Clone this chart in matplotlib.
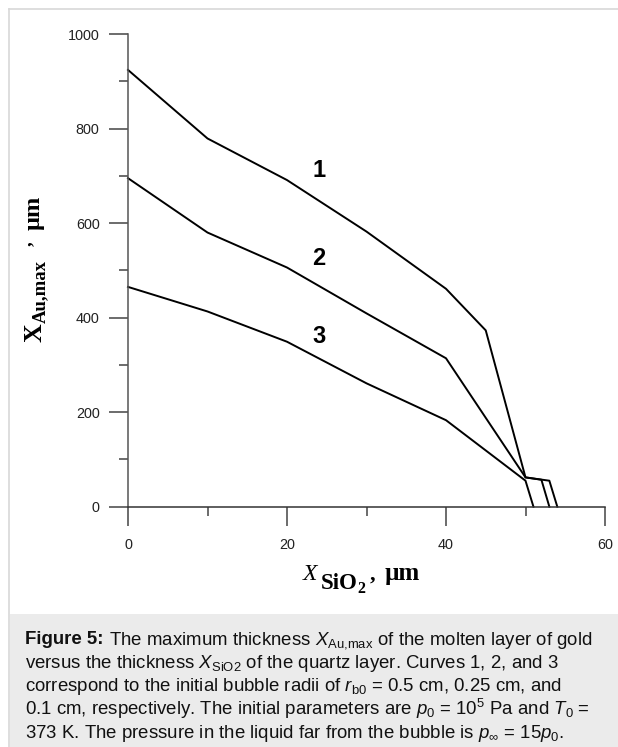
import matplotlib
matplotlib.use("Agg")
import matplotlib.pyplot as plt
from matplotlib.patches import Rectangle
from matplotlib.lines import Line2D
from matplotlib.ticker import MultipleLocator

# data (x: SiO2 thickness, um; y: max molten Au thickness, um)
x_curve1 = [0, 10, 20, 30, 40, 45, 50, 53, 54]
y_curve1 = [924, 779, 691, 582, 461, 373, 62, 55, 0]
x_curve2 = [0, 10, 20, 30, 40, 50, 52, 53]
y_curve2 = [695, 580, 506, 409, 314, 62, 57, 0]
x_curve3 = [0, 10, 20, 30, 40, 50, 51]
y_curve3 = [465, 413, 349, 261, 183, 55, 0]
curve_labels = ["1", "2", "3"]
label_pos = [(24, 712), (24, 525), (24, 360)]

caption_bold = "Figure 5:"
caption_lines = [
    r" The maximum thickness $X_{\mathrm{Au{,}max}}$ of the molten layer of gold",
    r"versus the thickness $X_{\mathrm{SiO2}}$ of the quartz layer. Curves 1, 2, and 3",
    r"correspond to the initial bubble radii of $r_{\mathrm{b0}}$ = 0.5 cm, 0.25 cm, and",
    r"0.1 cm, respectively. The initial parameters are $p_0$ = 10$^5$ Pa and $T_0$ =",
    r"373 K. The pressure in the liquid far from the bubble is $p_{\infty}$ = 15$p_0$.",
]

plt.rcParams["font.family"] = ["Liberation Sans", "DejaVu Sans"]
plt.rcParams["mathtext.fontset"] = "custom"
plt.rcParams["mathtext.rm"] = "Liberation Sans"
plt.rcParams["mathtext.it"] = "Liberation Sans:italic"
plt.rcParams["mathtext.bf"] = "Liberation Sans:bold"

W, H = 618, 747
fig = plt.figure(figsize=(W / 100, H / 100), dpi=100)
renderer = fig.canvas.get_renderer()


def put_pieces(x0, y0, pieces, rotation=0):
    # x0, y0 in pixels (y from top); pieces: (text, kwargs, raise_px, gap_px)
    pos = 0
    for s, kw, shift, gap in pieces:
        pos += gap
        if rotation == 0:
            x, y = x0 + pos, y0 - shift
        else:
            x, y = x0 - shift, y0 - pos
        t = fig.text(x / W, 1 - y / H, s, rotation=rotation, rotation_mode="anchor",
                     ha="left", va="baseline", **kw)
        bb = t.get_window_extent(renderer)
        pos += bb.width if rotation == 0 else bb.height


# page frame and grey caption box
fig.patches.append(Rectangle((10 / W, 0), 1, (H - 614) / H, transform=fig.transFigure,
                             facecolor="#ebebeb", edgecolor="none", zorder=0))
fig.lines.append(Line2D([9 / W, 9 / W], [0, (H - 8.5) / H], transform=fig.transFigure,
                        color="#d8d8d8", lw=1.2))
fig.lines.append(Line2D([9 / W, 1], [(H - 8.5) / H, (H - 8.5) / H], transform=fig.transFigure,
                        color="#d8d8d8", lw=1.2))

ax = fig.add_axes([128 / W, (H - 506.7) / H, 477 / W, 472.7 / H])
for xs, ys in [(x_curve1, y_curve1), (x_curve2, y_curve2), (x_curve3, y_curve3)]:
    ax.plot(xs, ys, color="black", lw=1.4, clip_on=False)

for lab, (lx, ly) in zip(curve_labels, label_pos):
    ax.text(lx, ly, lab, fontsize=17, fontweight="bold", ha="center", va="center")

ax.set_xlim(0, 60)
ax.set_ylim(0, 1000)
ax.xaxis.set_major_locator(MultipleLocator(20))
ax.xaxis.set_minor_locator(MultipleLocator(10))
ax.yaxis.set_major_locator(MultipleLocator(200))
ax.yaxis.set_minor_locator(MultipleLocator(100))
for s in ["top", "right"]:
    ax.spines[s].set_visible(False)
ax.spines["left"].set_color("#555555")
ax.spines["bottom"].set_color("#333333")
ax.spines["left"].set_linewidth(1.1)
ax.spines["bottom"].set_linewidth(1.1)
ax.tick_params(which="major", length=13.5, width=1.1, color="#444444", labelsize=10.4,
               pad=7, labelcolor="#222222")
ax.tick_params(which="minor", length=6.5, width=1.1, color="#444444")
ax.tick_params(axis="x", which="major", pad=9)

serif = "Liberation Serif"
# x axis label: X_SiO2 , um
put_pieces(303, 580, [
    ("X", dict(family=serif, style="italic", fontsize=17), 0, 0),
    ("SiO", dict(family=serif, weight="bold", fontsize=16.5), -9, 3),
    ("2", dict(family=serif, weight="bold", fontsize=11.5), -13, 0),
    (",", dict(family=serif, weight="bold", fontsize=16), 0, 4),
    ("\u00b5m", dict(family=serif, weight="bold", fontsize=18), 0, 10),
])
# y axis label: X_Au,max , um (rotated)
put_pieces(42, 342, [
    ("X", dict(family=serif, weight="bold", fontsize=18.5), 0, 0),
    ("Au,max", dict(family=serif, weight="bold", fontsize=13.5), -3, 0),
    (",", dict(family=serif, weight="bold", fontsize=13.5), 11, 14),
    ("\u00b5m", dict(family=serif, weight="bold", fontsize=17.5), 2, 12),
], rotation=90)

for i, line in enumerate(caption_lines):
    y = 644.3 + 23.5 * i
    if i == 0:
        put_pieces(25, y, [
            (caption_bold, dict(fontsize=13.4, weight="bold", color="#111111"), 0, 0),
            (line, dict(fontsize=13.4, color="#111111"), 0, 0),
        ])
    else:
        fig.text(25 / W, 1 - y / H, line, fontsize=13.4, ha="left", va="baseline",
                 color="#111111")

fig.savefig("out.png", dpi=100, facecolor="white")
